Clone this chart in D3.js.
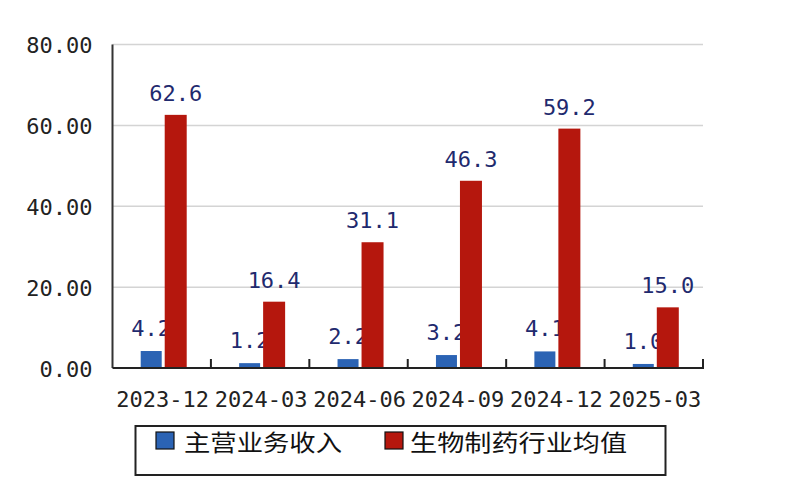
<!DOCTYPE html>
<html><head><meta charset="utf-8">
<script src="https://cdn.jsdelivr.net/npm/d3@7"></script>
<style>body{margin:0;background:#fff}svg{display:block}</style>
</head><body>
<svg id="c" width="800" height="500"></svg>
<script>
const categories = ["2023-12","2024-03","2024-06","2024-09","2024-12","2025-03"];
const revenue = [4.2, 1.2, 2.2, 3.2, 4.1, 1.0];
const industryAvg = [62.6, 16.4, 31.1, 46.3, 59.2, 15.0];
const yTicks = [0, 20, 40, 60, 80];
const seriesNames = ["主营业务收入", "生物制药行业均值"];
const colors = ["#2b63b4", "#b5170d"];

const svg = d3.select("#c");
const L = 112.5, R = 703, T = 44.5, B = 368;
const x = d3.scaleBand().domain(categories).range([L, R]).padding(0);
const y = d3.scaleLinear().domain([0, 80]).range([B, T]);
const mono = "'DejaVu Sans Mono', monospace";

// gridlines
svg.append("g").selectAll("line").data(yTicks.filter(d => d > 0)).join("line")
  .attr("x1", L).attr("x2", R).attr("y1", d => y(d)).attr("y2", d => y(d))
  .attr("stroke", "#d4d4d4").attr("stroke-width", 1.5);

// y axis labels
const yAxis = d3.axisLeft(y).tickValues(yTicks).tickSize(0).tickPadding(20).tickFormat(d3.format(".2f"));
const ga = svg.append("g").attr("transform", `translate(${L},0)`).call(yAxis);
ga.select(".domain").remove();
ga.selectAll("text").attr("font-family", mono).attr("font-size", 22).attr("fill", "#222").attr("dy", "0.38em");

const bw = 21;
// blue bars
svg.append("g").selectAll("rect").data(revenue).join("rect")
  .attr("x", (d, i) => x(categories[i]) + x.bandwidth() / 2 - bw)
  .attr("width", bw)
  .attr("y", d => y(d)).attr("height", d => B - y(d))
  .attr("fill", colors[0]);
// blue labels
svg.append("g").selectAll("text").data(revenue).join("text")
  .attr("x", (d, i) => x(categories[i]) + x.bandwidth() / 2 - bw / 2)
  .attr("y", d => y(d) - 15)
  .attr("text-anchor", "middle").attr("font-family", mono).attr("font-size", 22)
  .attr("fill", "#1f2a6e").text(d => d.toFixed(1));
// red bars
svg.append("g").selectAll("rect").data(industryAvg).join("rect")
  .attr("x", (d, i) => x(categories[i]) + x.bandwidth() / 2 + 3)
  .attr("width", bw + 1)
  .attr("y", d => y(d)).attr("height", d => B - y(d))
  .attr("fill", colors[1]);
// red labels
svg.append("g").selectAll("text").data(industryAvg).join("text")
  .attr("x", (d, i) => x(categories[i]) + x.bandwidth() / 2 + 14)
  .attr("y", d => y(d) - 14)
  .attr("text-anchor", "middle").attr("font-family", mono).attr("font-size", 22)
  .attr("fill", "#1f2a6e").text(d => d.toFixed(1));

// axes lines
svg.append("line").attr("x1", L).attr("x2", L).attr("y1", T).attr("y2", B).attr("stroke", "#333").attr("stroke-width", 2);
svg.append("line").attr("x1", L).attr("x2", R + 1).attr("y1", B).attr("y2", B).attr("stroke", "#222").attr("stroke-width", 2);
// category ticks (upward)
svg.append("g").selectAll("line").data(categories).join("line")
  .attr("x1", d => x(d) + x.bandwidth()).attr("x2", d => x(d) + x.bandwidth())
  .attr("y1", B - 9).attr("y2", B).attr("stroke", "#222").attr("stroke-width", 2);

// x labels
svg.append("g").selectAll("text").data(categories).join("text")
  .attr("x", d => x(d) + x.bandwidth() / 2 + 1).attr("y", 407)
  .attr("text-anchor", "middle").attr("font-family", mono).attr("font-size", 22)
  .attr("fill", "#222").text(d => d);

// legend
svg.append("rect").attr("x", 135.5).attr("y", 426).attr("width", 530).attr("height", 49)
  .attr("fill", "#fff").attr("stroke", "#222").attr("stroke-width", 2);
const lg = [{x: 156, tx: 184, len: 158}, {x: 385, tx: 410, len: 217}];
lg.forEach((p, i) => {
  svg.append("rect").attr("x", p.x).attr("y", 432).attr("width", 18).attr("height", 17)
    .attr("fill", colors[i]).attr("stroke", "#111").attr("stroke-width", 1.2);
  svg.append("text").attr("x", p.tx).attr("y", 451)
    .attr("font-family", "'Noto Sans CJK SC', sans-serif").attr("font-size", 23)
    .attr("textLength", p.len).attr("lengthAdjust", "spacingAndGlyphs")
    .attr("fill", "#111").text(seriesNames[i]);
});
</script>
</body></html>
